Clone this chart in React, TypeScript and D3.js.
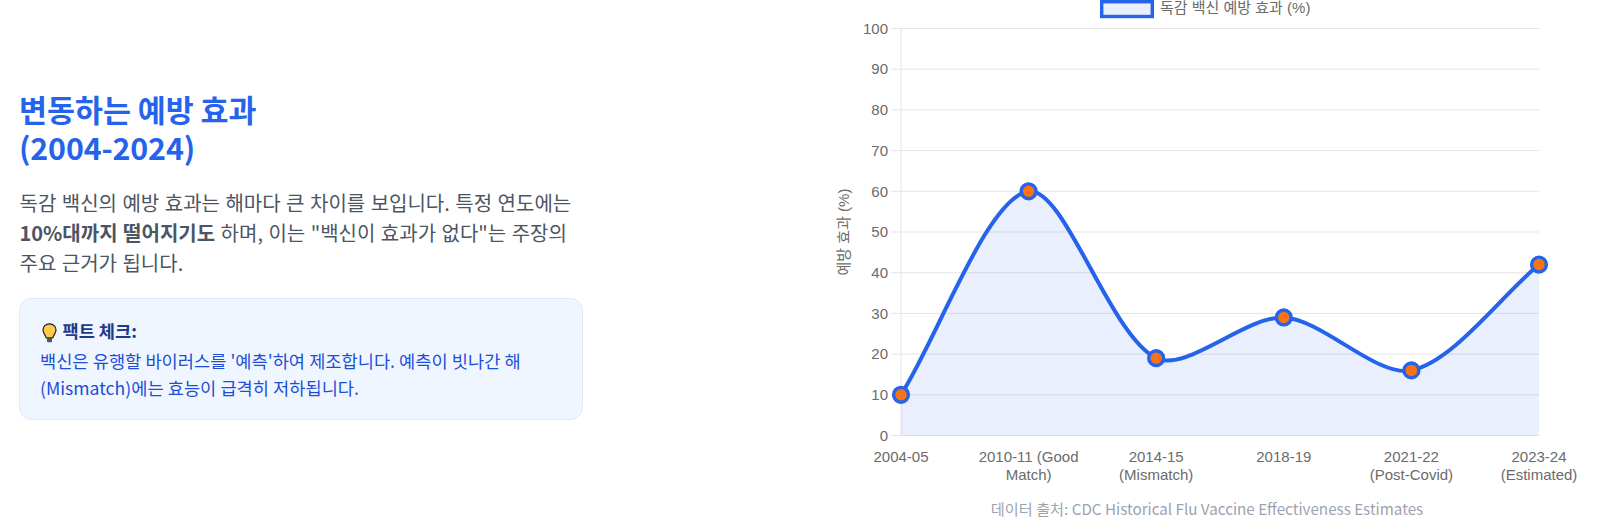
import React, { useEffect, useRef } from 'react';
import * as d3 from 'd3';

const seasons = ['2004-05', '2010-11 (Good Match)', '2014-15 (Mismatch)', '2018-19', '2021-22 (Post-Covid)', '2023-24 (Estimated)'];
const seasonLines = [['2004-05'], ['2010-11 (Good', 'Match)'], ['2014-15', '(Mismatch)'], ['2018-19'], ['2021-22', '(Post-Covid)'], ['2023-24', '(Estimated)']];
const effectiveness = [10, 60, 19, 29, 16, 42];
const yTicks = [0, 10, 20, 30, 40, 50, 60, 70, 80, 90, 100];

const KR = '"Noto Sans CJK KR", "Noto Sans", sans-serif';
const ARIAL = '"Liberation Sans", "Noto Sans CJK KR", sans-serif';
const BLUE = '#2563eb';
const ORANGE = '#f97316';
const AREA = 'rgba(37, 99, 235, 0.1)';
const GRID = '#e5e5e5';
const TICK = '#6b6b6b';

const width = 1607;
const height = 528;
const plot = { left: 901, right: 1539, top: 28.5, bottom: 435.5 };

// same spline the original chart uses (spacing-weighted control points)
function splinePath(pts: [number, number][], tension: number, path: d3.Path) {
  const ctrl = pts.map((p, i) => {
    const prev = pts[Math.max(i - 1, 0)];
    const next = pts[Math.min(i + 1, pts.length - 1)];
    const d01 = Math.hypot(p[0] - prev[0], p[1] - prev[1]);
    const d12 = Math.hypot(next[0] - p[0], next[1] - p[1]);
    const total = d01 + d12 || 1;
    const fa = (tension * d01) / total;
    const fb = (tension * d12) / total;
    return {
      before: [p[0] - fa * (next[0] - prev[0]), p[1] - fa * (next[1] - prev[1])],
      after: [p[0] + fb * (next[0] - prev[0]), p[1] + fb * (next[1] - prev[1])],
    };
  });
  pts.forEach((p, i) => {
    if (i === 0) return;
    path.bezierCurveTo(ctrl[i - 1].after[0], ctrl[i - 1].after[1], ctrl[i].before[0], ctrl[i].before[1], p[0], p[1]);
  });
}

const App: React.FC = () => {
  const chartRef = useRef<SVGGElement | null>(null);

  useEffect(() => {
    if (!chartRef.current) return;
    const g = d3.select(chartRef.current);
    g.selectAll('*').remove();

    const x = d3.scalePoint<string>().domain(seasons).range([plot.left, plot.right]);
    const y = d3.scaleLinear().domain([0, 100]).range([plot.bottom, plot.top]);

    // grid and tick marks
    g.selectAll('.grid')
      .data(yTicks)
      .enter().append('line')
      .attr('x1', plot.left - 10)
      .attr('x2', plot.right)
      .attr('y1', d => y(d))
      .attr('y2', d => y(d))
      .attr('stroke', GRID)
      .attr('stroke-width', 1);
    g.append('line')
      .attr('x1', plot.left).attr('x2', plot.left)
      .attr('y1', plot.top).attr('y2', plot.bottom + 0.5)
      .attr('stroke', GRID);

    g.selectAll('.ytick')
      .data(yTicks)
      .enter().append('text')
      .attr('x', plot.left - 13)
      .attr('y', d => y(d))
      .attr('dy', '0.35em')
      .attr('text-anchor', 'end')
      .attr('font-family', ARIAL)
      .attr('font-size', 15)
      .attr('fill', TICK)
      .text(d => d);

    const pts = seasons.map((s, i) => [x(s) as number, y(effectiveness[i])] as [number, number]);

    const linePath = d3.path();
    linePath.moveTo(pts[0][0], pts[0][1]);
    splinePath(pts, 0.3, linePath);

    const areaPath = d3.path();
    areaPath.moveTo(pts[0][0], pts[0][1]);
    splinePath(pts, 0.3, areaPath);
    areaPath.lineTo(plot.right, y(0));
    areaPath.lineTo(plot.left, y(0));
    areaPath.closePath();

    g.append('path').attr('d', areaPath.toString()).attr('fill', AREA);
    g.append('path').attr('d', linePath.toString()).attr('fill', 'none').attr('stroke', BLUE).attr('stroke-width', 4);

    g.selectAll('.point')
      .data(pts)
      .enter().append('circle')
      .attr('cx', d => d[0])
      .attr('cy', d => d[1])
      .attr('r', 7.4)
      .attr('fill', ORANGE)
      .attr('stroke', BLUE)
      .attr('stroke-width', 3.4);

    // x labels, wrapped like the original
    seasons.forEach((s, i) => {
      seasonLines[i].forEach((line, j) => {
        g.append('text')
          .attr('x', x(s) as number)
          .attr('y', 462 + j * 18)
          .attr('text-anchor', 'middle')
          .attr('font-family', ARIAL)
          .attr('font-size', 15)
          .attr('fill', TICK)
          .text(line);
      });
    });

    g.append('text')
      .attr('transform', `translate(849,${(plot.top + plot.bottom) / 2}) rotate(-90)`)
      .attr('text-anchor', 'middle')
      .attr('font-family', ARIAL)
      .attr('font-size', 15)
      .attr('fill', TICK)
      .text('예방 효과 (%)');

    // legend
    g.append('rect')
      .attr('x', 1101.7).attr('y', 1.7).attr('width', 50.6).attr('height', 14.8)
      .attr('fill', AREA).attr('stroke', BLUE).attr('stroke-width', 3.4);
    g.append('text')
      .attr('x', 1160).attr('y', 13)
      .attr('font-family', ARIAL)
      .attr('font-size', 15)
      .attr('fill', TICK)
      .text('독감 백신 예방 효과 (%)');
  }, []);

  return (
    <svg width={width} height={height} style={{ position: 'absolute', left: 0, top: 0, display: 'block' }}>
      <g fontFamily={KR}>
        <text x={19} y={122} fontSize={30.4} fontWeight={700} fill={BLUE}>변동하는 예방 효과</text>
        <text x={19} y={160} fontSize={30.4} fontWeight={700} fill={BLUE} letterSpacing={-0.15}>(2004-2024)</text>

        <g fontSize={20} fill="#4b5563" wordSpacing={1}>
          <text x={19.5} y={211}>독감 백신의 예방 효과는 해마다 큰 차이를 보입니다. 특정 연도에는</text>
          <text x={19.5} y={241}>
            <tspan fontWeight={700}>10%대까지 떨어지기도</tspan> 하며, 이는 "백신이 효과가 없다"는 주장의
          </text>
          <text x={19.5} y={271}>주요 근거가 됩니다.</text>
        </g>

        <rect x={19.5} y={298.5} width={563} height={121} rx={12} fill="#eff6ff" stroke="#dbeafe" />

        <g transform="translate(42,323)">
          <path d="M7.5 0.8C3.6 0.8 1 3.6 1 7c0 2.8 2.2 4.6 3.2 7.8h6.6c1-3.2 3.2-5 3.2-7.8C14 3.6 11.4 0.8 7.5 0.8z" fill="#ffc94d" stroke="#222" strokeWidth={1.2} />
          <rect x={5} y={14.8} width={5} height={4.4} rx={1} fill="#555" />
        </g>
        <text x={62.5} y={338} fontSize={17.6} fontWeight={700} fill="#1e3a8a">팩트 체크:</text>
        <g wordSpacing={0.2}>
          <text x={40} y={368} fontSize={17.6} fill="#1d4ed8">백신은 유행할 바이러스를 '예측'하여 제조합니다. 예측이 빗나간 해</text>
          <text x={40} y={394.5} fontSize={17.6} fill="#1d4ed8">(Mismatch)에는 효능이 급격히 저하됩니다.</text>
        </g>

        <text x={1207} y={515} textAnchor="middle" fontSize={15.2} fill="#9ca3af">데이터 출처: CDC Historical Flu Vaccine Effectiveness Estimates</text>
      </g>
      <g ref={chartRef} />
    </svg>
  );
};

export default App;
